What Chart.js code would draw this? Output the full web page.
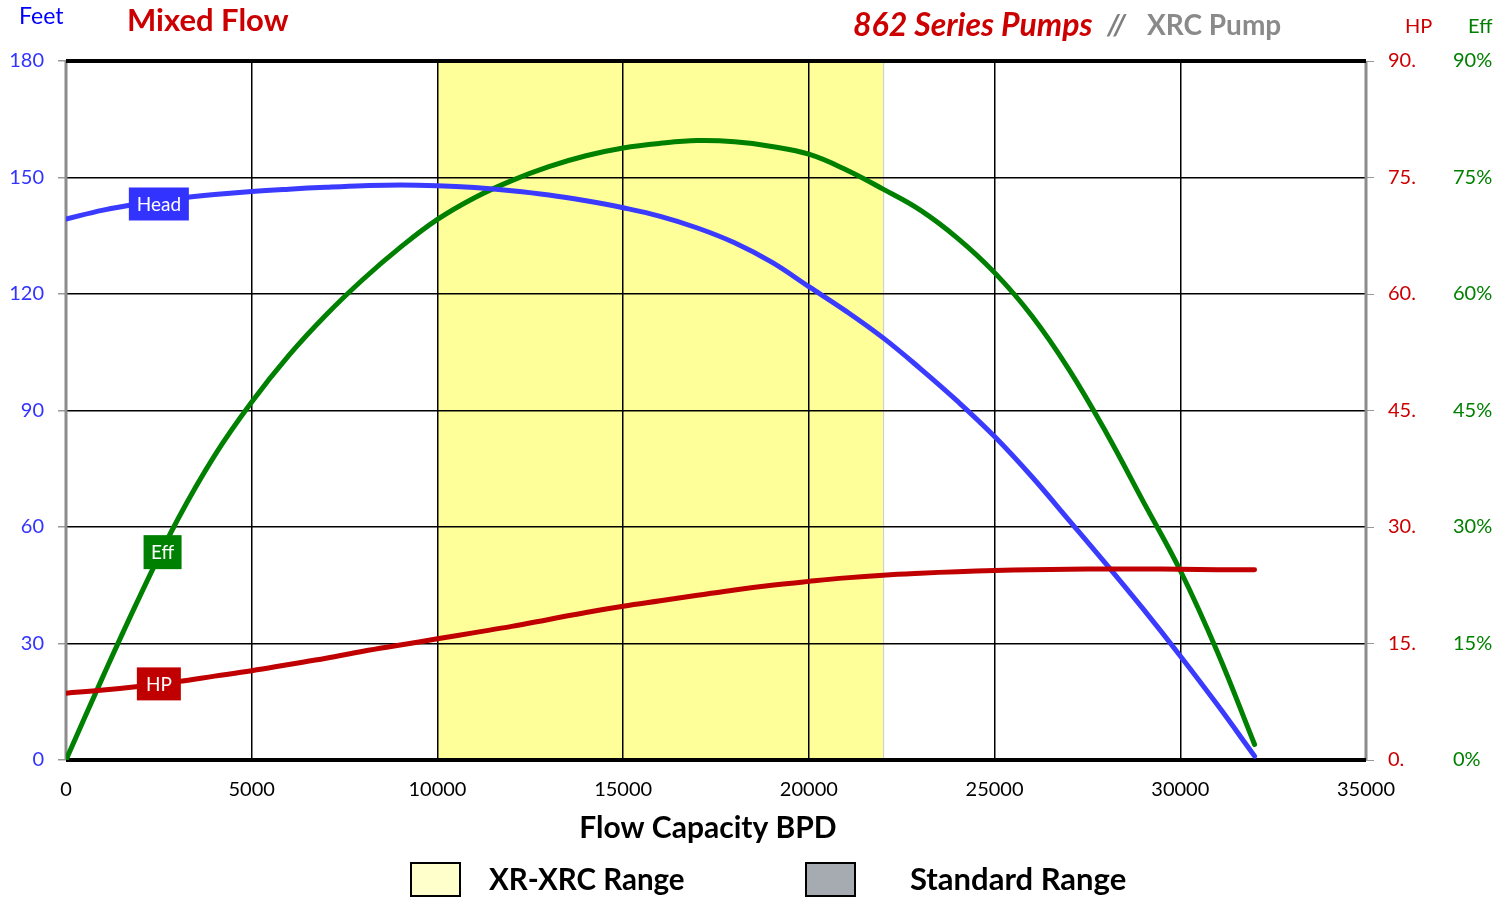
<!DOCTYPE html>
<html lang="en">

<head>
    <meta charset="UTF-8">
    <script src="https://cdn.jsdelivr.net/npm/chart.js"></script>
    <title>Mixed Flow - 862 Series Pumps</title>
    <style>
        body { margin: 0; background: #fff; }
    </style>
</head>

<body>
    <canvas id="pumpChart" width="1506" height="898"></canvas>
</body>

</html>
<script>
    // curve values, one reading every 1000 BPD
    const flow = [0, 1000, 2000, 3000, 4000, 5000, 6000, 7000, 8000, 9000, 10000, 11000, 12000, 13000, 14000, 15000, 16000,
        17000, 18000, 19000, 20000, 21000, 22000, 23000, 24000, 25000, 26000, 27000, 28000, 29000, 30000, 31000, 32000];
    const head = [139.3, 141.6, 143.3, 144.6, 145.6, 146.4, 147.0, 147.5, 147.9, 148.1, 147.9, 147.4, 146.6, 145.5, 144.0, 142.2, 140.0,
        137.0, 133.2, 128.2, 121.9, 115.6, 108.7, 100.8, 92.4, 83.3, 73.0, 61.8, 50.5, 38.9, 26.8, 14.2, 1.0];
    const hp = [8.6, 9.0, 9.5, 10.1, 10.8, 11.5, 12.3, 13.1, 14.0, 14.8, 15.6, 16.4, 17.2, 18.1, 19.0, 19.8, 20.5,
        21.2, 21.9, 22.5, 23.0, 23.45, 23.8, 24.05, 24.25, 24.4, 24.5, 24.55, 24.6, 24.6, 24.55, 24.5, 24.5];
    const eff = [0, 10.8, 21.2, 30.9, 39.2, 46.1, 52.1, 57.3, 61.9, 66.0, 69.6, 72.4, 74.6, 76.4, 77.8, 78.8, 79.4,
        79.75, 79.6, 79.0, 78.0, 76.0, 73.5, 70.8, 67.2, 62.75, 57.2, 50.3, 42.2, 33.3, 24.4, 13.9, 2.0];

    const xrRange = [10000, 22000];
    const flowTicks = [0, 5000, 10000, 15000, 20000, 25000, 30000, 35000];
    const feetTicks = [0, 30, 60, 90, 120, 150, 180];
    const rightTicks = [0, 15, 30, 45, 60, 75, 90];

    const FONT = 'Lato, "Open Sans", sans-serif';
    const BLUE = '#3b3bff';
    const GREEN = '#008000';
    const RED = '#c00000';

    const pontos = (ys) => flow.map((x, i) => ({ x: x, y: ys[i] }));

    function valorEm(ys, x) {
        for (let i = 1; i < flow.length; i++) {
            if (x <= flow[i]) {
                const t = (x - flow[i - 1]) / (flow[i] - flow[i - 1]);
                return ys[i - 1] + t * (ys[i] - ys[i - 1]);
            }
        }
        return ys[ys.length - 1];
    }

    // yellow XR-XRC band, under the grid
    const faixaPlugin = {
        id: 'faixa',
        beforeDraw(chart) {
            const { ctx, chartArea, scales } = chart;
            const x1 = scales.x.getPixelForValue(xrRange[0]);
            const x2 = scales.x.getPixelForValue(xrRange[1]);
            ctx.save();
            ctx.fillStyle = '#ffff99';
            ctx.fillRect(x1, chartArea.top, x2 - x1, chartArea.bottom - chartArea.top);
            ctx.strokeStyle = '#c8c8c8';
            ctx.lineWidth = 1;
            ctx.beginPath();
            ctx.moveTo(x2 + 0.5, chartArea.top);
            ctx.lineTo(x2 + 0.5, chartArea.bottom);
            ctx.stroke();
            ctx.restore();
        },
        beforeDatasetsDraw(chart) {
            const { ctx, chartArea: a } = chart;
            ctx.save();
            ctx.strokeStyle = '#8c8c8c';
            ctx.lineWidth = 3;
            ctx.beginPath();
            ctx.moveTo(a.left, a.top); ctx.lineTo(a.left, a.bottom);
            ctx.moveTo(a.right, a.top); ctx.lineTo(a.right, a.bottom);
            ctx.stroke();
            ctx.strokeStyle = '#000';
            ctx.lineWidth = 4;
            ctx.beginPath();
            ctx.moveTo(a.left, a.top); ctx.lineTo(a.right, a.top);
            ctx.moveTo(a.left, a.bottom); ctx.lineTo(a.right, a.bottom);
            ctx.stroke();
            ctx.restore();
        }
    };

    function caixa(ctx, texto, cx, cy, w, h, cor) {
        ctx.fillStyle = cor;
        ctx.fillRect(cx - w / 2, cy - h / 2, w, h);
        ctx.fillStyle = '#fff';
        ctx.font = '19px ' + FONT;
        ctx.textAlign = 'center';
        ctx.textBaseline = 'middle';
        ctx.fillText(texto, cx, cy + 1);
    }

    function escreve(ctx, texto, x, y, font, cor, align) {
        ctx.font = font;
        ctx.fillStyle = cor;
        ctx.textAlign = align || 'left';
        ctx.textBaseline = 'middle';
        ctx.fillText(texto, x, y);
    }

    const textosPlugin = {
        id: 'textos',
        afterDraw(chart) {
            const { ctx, scales } = chart;
            ctx.save();
            // curve labels
            const xl = scales.x.getPixelForValue(2500);
            caixa(ctx, 'Head', xl, scales.y.getPixelForValue(valorEm(head, 2500)) + 3, 60, 33, '#3333ff');
            caixa(ctx, 'Eff', scales.x.getPixelForValue(2600), scales.y3.getPixelForValue(valorEm(eff, 2600)) + 2, 38, 34, GREEN);
            caixa(ctx, 'HP', xl, scales.y2.getPixelForValue(valorEm(hp, 2500)), 44, 33, RED);

            // headings
            escreve(ctx, 'Feet', 19, 17, '23px ' + FONT, '#0000ff');
            escreve(ctx, 'Mixed Flow', 127, 21, 'bold 31px ' + FONT, '#cc0000');
            escreve(ctx, '862 Series Pumps', 853, 26, 'italic bold 32px ' + FONT, '#cc0000');
            escreve(ctx, '//', 1107, 26, 'italic bold 29px ' + FONT, '#808080');
            escreve(ctx, 'XRC Pump', 1147, 26, 'bold 28px ' + FONT, '#8a8a8a');
            escreve(ctx, 'HP', 1405, 27, '20px ' + FONT, '#cc0000');
            escreve(ctx, 'Eff', 1468, 27, '20px ' + FONT, GREEN);

            // axis title
            escreve(ctx, 'Flow Capacity BPD', 708, 828, 'bold 30px ' + FONT, '#000', 'center');

            // legend
            ctx.lineWidth = 2;
            ctx.strokeStyle = '#000';
            ctx.fillStyle = '#ffffcc';
            ctx.fillRect(411, 863, 49, 33);
            ctx.strokeRect(411, 863, 49, 33);
            ctx.fillStyle = '#a6abb1';
            ctx.fillRect(806, 863, 49, 33);
            ctx.strokeRect(806, 863, 49, 33);
            escreve(ctx, 'XR-XRC Range', 489, 880, 'bold 29.5px ' + FONT, '#000');
            escreve(ctx, 'Standard Range', 910, 880, 'bold 31px ' + FONT, '#000');
            ctx.restore();
        }
    };

    const serie = (label, ys, cor, eixo) => ({
        label: label,
        data: pontos(ys),
        borderColor: cor,
        backgroundColor: cor,
        borderWidth: 5,
        pointRadius: 0,
        tension: 0.4,
        borderCapStyle: 'round',
        yAxisID: eixo
    });

    new Chart(document.getElementById('pumpChart'), {
        type: 'line',
        data: {
            datasets: [
                serie('HP', hp, RED, 'y2'),
                serie('Head', head, BLUE, 'y'),
                serie('Eff', eff, GREEN, 'y3')
            ]
        },
        options: {
            responsive: false,
            animation: false,
            layout: { padding: { top: 61, left: 0, right: 0, bottom: 0 } },
            plugins: {
                legend: { display: false },
                tooltip: { enabled: false }
            },
            scales: {
                x: {
                    type: 'linear',
                    min: 0,
                    max: 35000,
                    afterBuildTicks: (s) => { s.ticks = flowTicks.map(v => ({ value: v })); },
                    afterFit: (s) => { s.height = 138; },
                    ticks: { color: '#000', font: { family: FONT, size: 20 }, padding: 18, maxRotation: 0, callback: (v) => String(v) },
                    grid: { color: '#000', lineWidth: 1.5, drawTicks: false },
                    border: { display: false }
                },
                y: {
                    position: 'left',
                    min: 0,
                    max: 180,
                    afterBuildTicks: (s) => { s.ticks = feetTicks.map(v => ({ value: v })); },
                    afterFit: (s) => { s.width = 66; },
                    ticks: { color: '#3333ff', font: { family: FONT, size: 20 }, padding: 14 },
                    grid: { color: '#000', lineWidth: 1.5, tickColor: '#999', tickLength: 8 },
                    border: { display: false }
                },
                y2: {
                    position: 'right',
                    weight: 0,
                    min: 0,
                    max: 90,
                    afterBuildTicks: (s) => { s.ticks = rightTicks.map(v => ({ value: v })); },
                    afterFit: (s) => { s.width = 80; },
                    ticks: { color: '#cc0000', font: { family: FONT, size: 20 }, padding: 14, callback: (v) => v + '.' },
                    grid: { drawOnChartArea: false, tickColor: '#999', tickLength: 8 },
                    border: { display: false }
                },
                y3: {
                    position: 'right',
                    weight: 1,
                    min: 0,
                    max: 90,
                    afterBuildTicks: (s) => { s.ticks = rightTicks.map(v => ({ value: v })); },
                    afterFit: (s) => { s.width = 60; },
                    ticks: { color: GREEN, font: { family: FONT, size: 20 }, padding: 7, callback: (v) => v + '%' },
                    grid: { drawOnChartArea: false, drawTicks: false },
                    border: { display: false }
                }
            }
        },
        plugins: [faixaPlugin, textosPlugin]
    });
</script>
